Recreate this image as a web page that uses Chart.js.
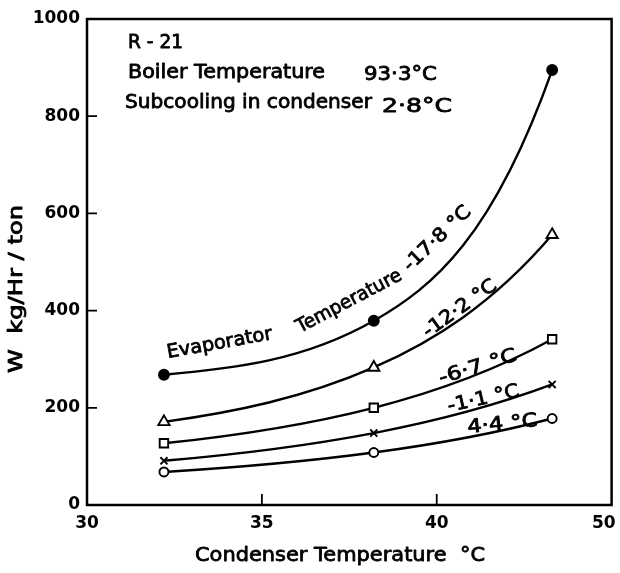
<!DOCTYPE html>
<html><head><meta charset="utf-8">
<script src="https://cdn.jsdelivr.net/npm/chart.js@4.4.1/dist/chart.umd.min.js"></script>
<style>html,body{margin:0;padding:0;background:#fff}canvas{display:block}</style>
</head><body>
<canvas id="c" width="620" height="573"></canvas>
<script>
// ---- data ----
const condenserTemp = [32.2, 38.2, 43.3];            // °C
const wEvapMinus17_8 = [268, 379, 895];               // kg/Hr/ton
const wEvapMinus12_2 = [171, 283, 556];
const wEvapMinus6_7  = [127, 200, 341];
const wEvapMinus1_1  = [91, 148, 248];
const wEvapPlus4_4   = [68, 108, 178];
const seriesNames = ['-17·8 °C', '-12·2 °C', '-6·7 °C', '-1·1 °C', '4·4 °C'];
const xTickValues = [30, 35, 40, 45];
const xTickLabels = ['30', '35', '40', '50'];
const yTickValues = [0, 200, 400, 600, 800, 1000];
const xAxisTitle = 'Condenser Temperature  °C';
const yAxisTitle = 'W  kg/Hr / ton';

const FONT = '"DejaVu Sans", "Liberation Sans", sans-serif';
const toPts = arr => condenserTemp.map((x, i) => ({x: x, y: arr[i]}));

const markerStyles = [
  {pointStyle: 'circle',   pointRadius: 5,   pointBackgroundColor: '#000'},
  {pointStyle: 'triangle', pointRadius: 6.5, pointBackgroundColor: '#fff'},
  {pointStyle: 'rect',     pointRadius: 6,   pointBackgroundColor: '#fff'},
  {pointStyle: 'crossRot', pointRadius: 5,   pointBackgroundColor: '#fff'},
  {pointStyle: 'circle',   pointRadius: 4.5, pointBackgroundColor: '#fff'}
];
const seriesValues = [wEvapMinus17_8, wEvapMinus12_2, wEvapMinus6_7, wEvapMinus1_1, wEvapPlus4_4];
const datasets = seriesValues.map((vals, i) => Object.assign({
  label: seriesNames[i],
  data: toPts(vals),
  borderColor: '#000',
  borderWidth: 2.4,
  cubicInterpolationMode: 'monotone',
  fill: false,
  pointBorderColor: '#000',
  pointBorderWidth: 1.9,
  pointHoverRadius: 5
}, markerStyles[i]));

// text annotations: [text, x1, y1, x2, y2, fontSize]  (baseline start -> end)
const annotations = [
  ['R - 21', 128, 48, 183, 48, 19],
  ['Boiler Temperature', 128, 78, 325, 78, 19],
  ['93·3°C', 364, 80, 437, 80, 19],
  ['Subcooling in condenser', 125, 108, 372, 108, 19],
  ['2·8°C', 382, 112, 452, 112, 19],
  ['Evaporator', 168, 358, 273, 339, 19],
  ['Temperature', 300, 333, 403, 279, 19],
  ['-17·8 °C', 410, 272, 472, 213, 19],
  ['-12·2 °C', 428, 338, 498, 288, 19],
  ['-6·7 °C', 441, 384, 518, 360, 19],
  ['-1·1 °C', 449, 412, 520, 396, 19],
  ['4·4 °C', 468, 433, 538, 426, 19],
  [xAxisTitle, 195, 561, 485, 561, 20],
  [yAxisTitle, 22, 373, 22, 205, 19]
];

function fitText(ctx, text, x1, y1, x2, y2, size) {
  ctx.save();
  ctx.font = size + 'px ' + FONT;
  ctx.textAlign = 'left';
  ctx.textBaseline = 'alphabetic';
  ctx.fillStyle = '#000';
  ctx.strokeStyle = '#000';
  ctx.lineJoin = 'round';
  const len = Math.hypot(x2 - x1, y2 - y1);
  const ang = Math.atan2(y2 - y1, x2 - x1);
  const m = ctx.measureText(text).width;
  ctx.translate(x1, y1);
  ctx.rotate(ang);
  ctx.scale(len / m, 1);
  ctx.lineWidth = 0.8;
  ctx.fillText(text, 0, 0);
  ctx.strokeText(text, 0, 0);
  ctx.restore();
}

// Tangent slopes (data units) of a growth curve y = A + B*exp(k*x) through the 3 points
function growthSlopes(xs, ys) {
  const h0 = xs[1] - xs[0], h1 = xs[2] - xs[1];
  const f = k => {
    const E0 = Math.exp(k * h0);
    const A = (ys[0] * E0 - ys[1]) / (E0 - 1);
    return {A: A, r: (ys[1] - A) * Math.exp(k * h1) - (ys[2] - A)};
  };
  let lo = 1e-4, hi = 3;
  if (f(lo).r * f(hi).r > 0) return null;
  for (let it = 0; it < 80; it++) {
    const mid = (lo + hi) / 2;
    if (f(lo).r * f(mid).r <= 0) hi = mid; else lo = mid;
  }
  const k = (lo + hi) / 2, A = f(k).A;
  return ys.map(y => k * (y - A));
}

const curvePlugin = {
  id: 'growthCurve',
  beforeDatasetDraw(chart, args) {
    const meta = args.meta;
    const xs = chart.scales.x, ys = chart.scales.y;
    const vals = seriesValues[args.index];
    const slopes = growthSlopes(condenserTemp, vals);
    if (!slopes) return;
    const pxX = xs.getPixelForValue(1) - xs.getPixelForValue(0);
    const pxY = ys.getPixelForValue(1) - ys.getPixelForValue(0);
    const pts = meta.data;
    const m = slopes.map(s => s * pxY / pxX);
    for (let i = 0; i < pts.length; i++) {
      const p = pts[i];
      if (i > 0) {
        const dx = (p.x - pts[i - 1].x) / 3;
        p.cp1x = p.x - dx; p.cp1y = p.y - m[i] * dx;
      } else { p.cp1x = p.x; p.cp1y = p.y; }
      if (i < pts.length - 1) {
        const dx = (pts[i + 1].x - p.x) / 3;
        p.cp2x = p.x + dx; p.cp2y = p.y + m[i] * dx;
      } else { p.cp2x = p.x; p.cp2y = p.y; }
    }
    meta.dataset._pointsUpdated = true;
    meta.dataset._path = undefined;
  }
};

const framePlugin = {
  id: 'frame',
  beforeDatasetsDraw(chart) {
    const {ctx, chartArea: a, scales} = chart;
    ctx.save();
    ctx.strokeStyle = '#000';
    ctx.lineWidth = 2.5;
    ctx.strokeRect(a.left, a.top, a.right - a.left, a.bottom - a.top);
    ctx.lineWidth = 1.8;
    ctx.beginPath();
    scales.y.ticks.forEach(t => {
      if (t.value <= 0 || t.value >= 1000) return;
      const py = scales.y.getPixelForValue(t.value);
      ctx.moveTo(a.left, py); ctx.lineTo(a.left + 10, py);
    });
    scales.x.ticks.forEach(t => {
      if (t.value <= 30 || t.value >= 45) return;
      const px = scales.x.getPixelForValue(t.value);
      ctx.moveTo(px, a.bottom); ctx.lineTo(px, a.bottom - 11);
    });
    ctx.stroke();
    // x tick labels (last one kept inside the frame as in the original)
    ctx.font = 'bold 17px ' + FONT;
    ctx.fillStyle = '#000';
    ctx.textBaseline = 'middle';
    scales.x.ticks.forEach((t, i) => {
      const px = scales.x.getPixelForValue(t.value);
      const last = i === scales.x.ticks.length - 1;
      ctx.textAlign = last ? 'right' : 'center';
      ctx.fillText(xTickLabels[xTickValues.indexOf(t.value)], last ? px + 4 : px, a.bottom + 19);
    });
    ctx.restore();
  },
  afterDraw(chart) {
    annotations.forEach(a => fitText(chart.ctx, a[0], a[1], a[2], a[3], a[4], a[5]));
  }
};

new Chart(document.getElementById('c'), {
  type: 'line',
  data: {datasets: datasets},
  options: {
    responsive: false,
    animation: false,
    devicePixelRatio: 1,
    layout: {padding: {top: 19, right: 6, left: 0, bottom: 0}},
    plugins: {legend: {display: false}, tooltip: {enabled: false}, title: {display: false}},
    scales: {
      x: {
        type: 'linear', min: 30, max: 45,
        grid: {display: false, drawTicks: false},
        border: {display: false},
        afterBuildTicks: s => { s.ticks = xTickValues.map(v => ({value: v})); },
        ticks: {display: false},
        afterFit: s => { s.height = 68; s.paddingLeft = 0; s.paddingRight = 0; }
      },
      y: {
        type: 'linear', min: 0, max: 1000,
        grid: {display: false, drawTicks: false},
        border: {display: false},
        afterBuildTicks: s => { s.ticks = yTickValues.map(v => ({value: v})); },
        ticks: {
          padding: 7, color: '#000', autoSkip: false,
          font: {family: FONT, size: 17, weight: 'bold'},
          callback: v => String(v)
        },
        afterFit: s => { s.width = 87; s.paddingTop = 0; s.paddingBottom = 0; }
      }
    }
  },
  plugins: [curvePlugin, framePlugin]
});
</script>
</body></html>
